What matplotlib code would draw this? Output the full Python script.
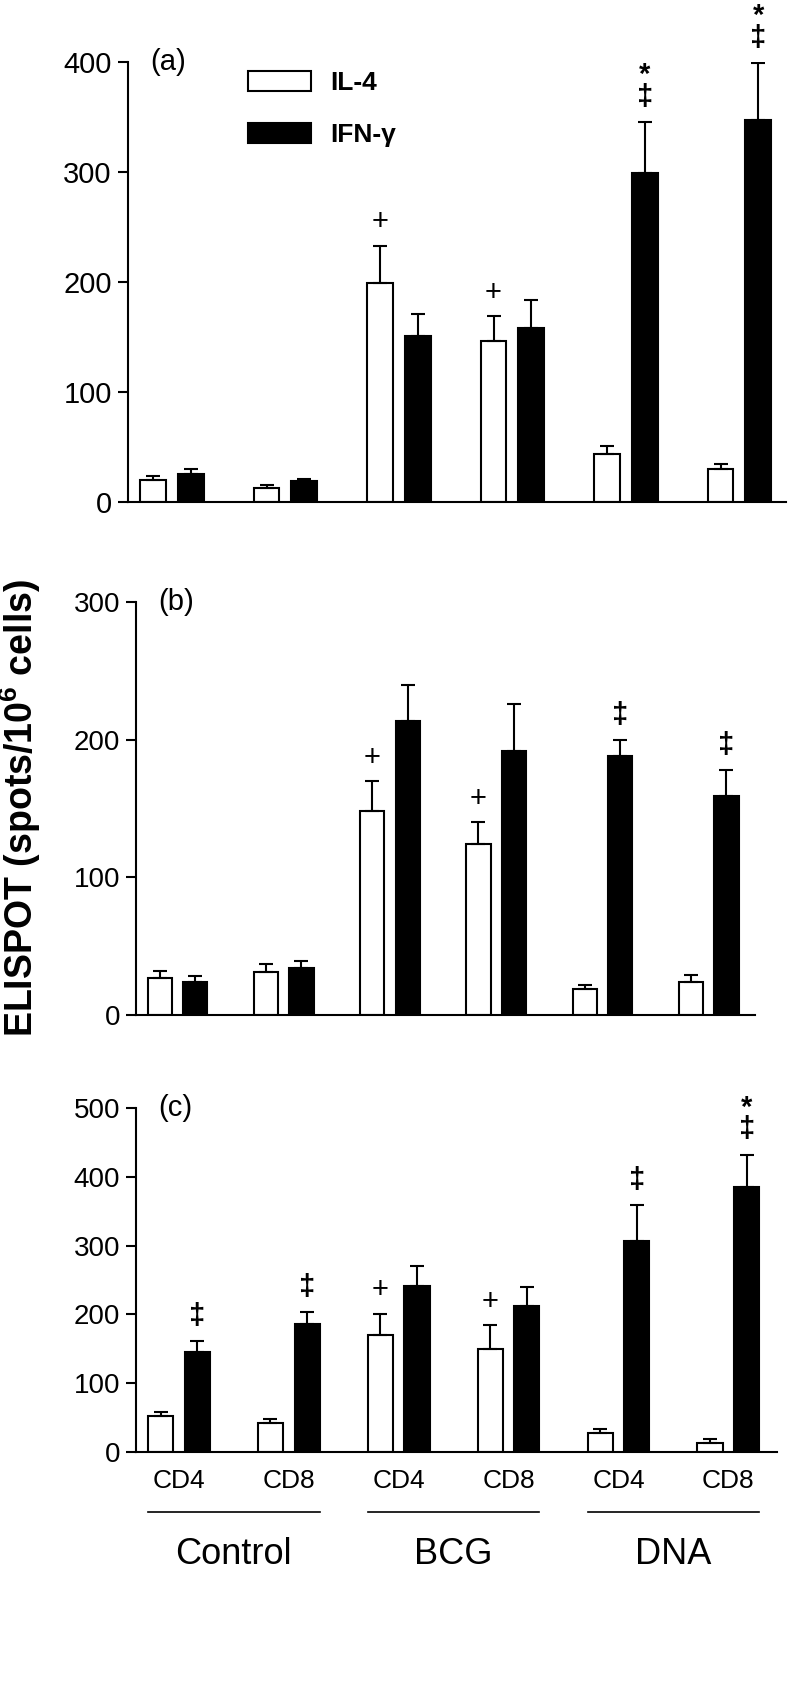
import matplotlib
matplotlib.use('Agg')
import matplotlib.pyplot as plt
import numpy as np

plt.rcParams['font.family'] = ['Liberation Sans', 'DejaVu Sans']
plt.rcParams['mathtext.default'] = 'regular'

# ---------------- data ----------------
groups = ['Control', 'BCG', 'DNA']
subsets = ['CD4', 'CD8', 'CD4', 'CD8', 'CD4', 'CD8']
series = ['IL-4', 'IFN-γ']

a_il4 = [20, 13, 199, 146, 44, 30]
a_il4_err = [4, 3, 34, 23, 7, 5]
a_ifn = [26, 19, 151, 158, 299, 347]
a_ifn_err = [4, 2, 20, 26, 46, 52]
a_il4_marks = ['', '', '+', '+', '', '']
a_ifn_marks = ['', '', '', '', '‡*', '‡*']

b_il4 = [27, 31, 148, 124, 19, 24]
b_il4_err = [5, 6, 22, 16, 3, 5]
b_ifn = [24, 34, 214, 192, 188, 159]
b_ifn_err = [4, 5, 26, 34, 12, 19]
b_il4_marks = ['', '', '+', '+', '', '']
b_ifn_marks = ['', '', '', '', '‡', '‡']

c_il4 = [52, 43, 170, 150, 28, 14]
c_il4_err = [7, 5, 31, 34, 6, 5]
c_ifn = [146, 186, 242, 213, 307, 385]
c_ifn_err = [16, 18, 29, 27, 52, 47]
c_il4_marks = ['', '', '+', '+', '', '']
c_ifn_marks = ['‡', '‡', '', '', '‡', '‡*']

# ---------------- figure ----------------
W, H = 788, 1688
fig = plt.figure(figsize=(W / 100, H / 100), dpi=100)


def add_axes(l, r, yb, yt):
    return fig.add_axes([l / W, 1 - yb / H, (r - l) / W, (yb - yt) / H])


axA = add_axes(127.7, 786, 502.3, 61.7)
axB = add_axes(136, 755, 1015, 602.3)
axC = add_axes(136, 776.7, 1452.3, 1107.7)

W_BAR = 0.228
OFF = 0.167
LW = 1.5


def panel(ax, il4, il4e, ifn, ifne, m_il4, m_ifn, ymax, ystep, xmax, label,
          ticksize):
    x = np.arange(len(subsets))
    b1 = ax.bar(x - OFF, il4, W_BAR, color='white', edgecolor='black',
                linewidth=LW, zorder=2, label=series[0])
    b2 = ax.bar(x + OFF, ifn, W_BAR, color='black', edgecolor='black',
                linewidth=LW, zorder=2, label=series[1])
    for xs, ys, es in [(x - OFF, il4, il4e), (x + OFF, ifn, ifne)]:
        ax.errorbar(xs, ys, yerr=[np.zeros(len(es)), es], fmt='none',
                    ecolor='black', elinewidth=LW, capsize=5, capthick=LW,
                    zorder=3)
    for xs, ys, es, ms in [(x - OFF, il4, il4e, m_il4),
                           (x + OFF, ifn, ifne, m_ifn)]:
        for xi, yi, ei, mk in zip(xs, ys, es, ms):
            if not mk:
                continue
            if mk == '+':
                ax.annotate('+', (xi, yi + ei), xytext=(0, 17),
                            textcoords='offset points', ha='center',
                            va='center', fontsize=21, annotation_clip=False)
            elif len(mk) == 1:
                ax.annotate(mk, (xi, yi + ei), xytext=(0, 18),
                            textcoords='offset points', ha='center',
                            va='center', fontsize=21, fontweight='bold',
                            annotation_clip=False)
            else:
                txt = '\n'.join(reversed(list(mk)))
                ax.annotate(txt, (xi, yi + ei), xytext=(0, 8),
                            textcoords='offset points', ha='center',
                            va='bottom', fontsize=21, fontweight='bold',
                            linespacing=0.72, multialignment='center',
                            annotation_clip=False)
    ax.set_xlim(-0.39, xmax)
    ax.set_ylim(0, ymax)
    ax.set_yticks(np.arange(0, ymax + 1, ystep))
    ax.spines[['top', 'right']].set_visible(False)
    for s in ['left', 'bottom']:
        ax.spines[s].set_linewidth(LW)
    ax.tick_params(axis='y', direction='out', length=7.5, width=LW,
                   labelsize=ticksize, pad=4)
    ax.tick_params(axis='x', length=0)
    ax.set_xticks(x)
    ax.set_xticklabels([])
    ax.annotate(label, (0, 1), xycoords='axes fraction', xytext=(16, 0),
                textcoords='offset points', ha='left', va='center',
                fontsize=21)
    return b1, b2


b1, b2 = panel(axA, a_il4, a_il4_err, a_ifn, a_ifn_err, a_il4_marks,
               a_ifn_marks, 400, 100, 5.41, '(a)', 21)
panel(axB, b_il4, b_il4_err, b_ifn, b_ifn_err, b_il4_marks, b_ifn_marks,
      300, 100, 5.436, '(b)', 20)
panel(axC, c_il4, c_il4_err, c_ifn, c_ifn_err, c_il4_marks, c_ifn_marks,
      500, 100, 5.44, '(c)', 20)

# legend
axA.legend(handles=[b1, b2], labels=series, loc='upper left',
           bbox_to_anchor=(0.1827, 0.979), frameon=False, borderpad=0,
           borderaxespad=0, handlelength=2.4, handleheight=0.8,
           handletextpad=0.7, labelspacing=1.05,
           prop={'size': 19, 'weight': 'bold'})

# x labels on bottom panel
x = np.arange(len(subsets))
axC.set_xticklabels(subsets, fontsize=19)
axC.tick_params(axis='x', pad=12)
trans = axC.get_xaxis_transform()
for gi, g in enumerate(groups):
    x0 = x[2 * gi] - OFF - W_BAR / 2
    x1 = x[2 * gi + 1] + OFF + W_BAR / 2
    axC.plot([x0, x1], [-0.172, -0.172], color='black', lw=1.2,
             transform=trans, clip_on=False)
    axC.text((x[2 * gi] + x[2 * gi + 1]) / 2, -0.298, g, transform=trans,
             ha='center', va='center', fontsize=26)

fig.text(20 / W, 1 - 808 / H, 'ELISPOT (spots/10$^{6}$ cells)', rotation=90,
         ha='center', va='center', fontsize=27, fontweight='bold')

fig.savefig('out.png', dpi=100)
